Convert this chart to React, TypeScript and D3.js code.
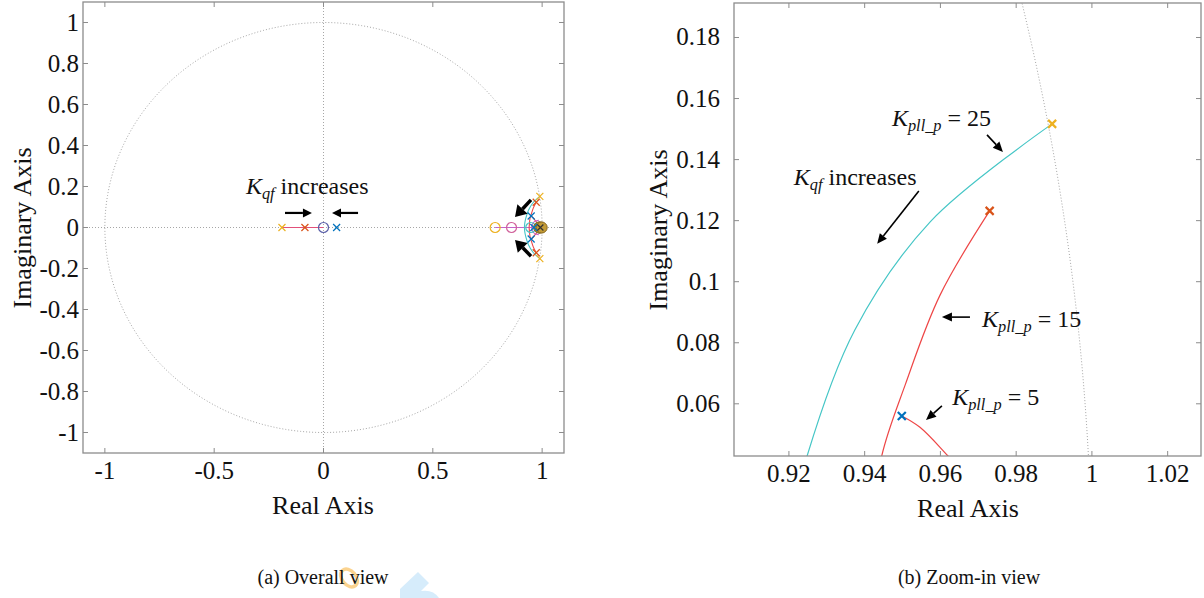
import * as d3 from "d3";

const FONT = "'Liberation Serif', 'Times New Roman', serif";
const AXIS = "#8c8c8c";
const GRID = "#a6a6a6";
const C_ORANGE = "#EDB120";
const C_RED = "#D95319";
const C_BLUE = "#0072BD";
const L_CYAN = "#45c6c6";
const L_RED = "#ee4646";
const L_MAG = "#c462c8";
const L_PINK = "#e2507a";

// tick values
const xTicksA = [-1, -0.5, 0, 0.5, 1];
const yTicksA = [-1, -0.8, -0.6, -0.4, -0.2, 0, 0.2, 0.4, 0.6, 0.8, 1];
const xTicksB = [0.92, 0.94, 0.96, 0.98, 1, 1.02];
const yTicksB = [0.06, 0.08, 0.1, 0.12, 0.14, 0.16, 0.18];

// root locus branches, upper half plane, [real, imag]
const locus25 = [
  [0.919, 0], [0.9205, 0.02], [0.9248, 0.0429], [0.9374, 0.0842],
  [0.9573, 0.1196], [0.9895, 0.1517],
];
const locus15 = [
  [0.9405, 0], [0.942, 0.02], [0.9445, 0.0429], [0.9507, 0.0662],
  [0.9599, 0.0956], [0.973, 0.1232],
];
const locus5 = [[0.9498, 0.056], [0.9546, 0.0523], [0.962, 0.0429], [0.975, 0.025], [0.985, 0]];
const arcMag = [[0.985, 0.035], [0.966, 0.03], [0.955, 0.015], [0.952, 0]];
const arcBlue = [[0.99, 0.028], [0.976, 0.022], [0.967, 0.01], [0.965, 0]];
const segPink = [[-0.19, 0], [0, 0]];
const segMag = [[0.785, 0], [1.01, 0]];

// open-loop poles (x) and zeros (o)
const polesCplx = [
  { re: 0.9895, im: 0.1517, color: C_ORANGE },
  { re: 0.973, im: 0.1232, color: C_RED },
  { re: 0.9498, im: 0.056, color: C_BLUE },
];
const polesReal = [
  { re: -0.19, color: C_ORANGE },
  { re: -0.085, color: C_RED },
  { re: 0.06, color: C_BLUE },
  { re: 0.962, color: C_BLUE },
];
const zerosReal = [
  { re: 0, color: "#5a5fa8" },
  { re: 0.785, color: C_ORANGE },
  { re: 0.86, color: "#d0609a" },
  { re: 0.948, color: L_CYAN },
];
const zeroCluster = [0.986, 0.992, 0.998];

const boxA = { l: 83, t: 2, r: 564, b: 453 };
const boxB = { l: 734, t: 3, r: 1201, b: 456 };

const sxA = d3.scaleLinear().domain([-1.1, 1.1]).range([boxA.l, boxA.r]);
const syA = d3.scaleLinear().domain([-1.1, 1.1]).range([boxA.b, boxA.t]);
const sxB = d3.scaleLinear().domain([0.9055, 1.0288]).range([boxB.l, boxB.r]);
const syB = d3.scaleLinear().domain([0.0429, 0.1913]).range([boxB.b, boxB.t]);

const circlePts = d3.range(0, 361, 1).map((a) => [Math.cos((a * Math.PI) / 180), Math.sin((a * Math.PI) / 180)]);

const xMark = (s) => `M${-s},${-s}L${s},${s}M${-s},${s}L${s},${-s}`;

const TICK_FS = 25;
const LAB_FS = 26;

const Frame = ({ box, sx, sy, xTicks, yTicks, yLabOff }) => {
  const tl = 5;
  return (
    <g>
      <rect x={box.l} y={box.t} width={box.r - box.l} height={box.b - box.t} fill="none" stroke={AXIS} strokeWidth={1.3} />
      {xTicks.map((v) => (
        <g key={"x" + v}>
          <line x1={sx(v)} x2={sx(v)} y1={box.b} y2={box.b - tl} stroke={AXIS} />
          <line x1={sx(v)} x2={sx(v)} y1={box.t} y2={box.t + tl} stroke={AXIS} />
          <text x={sx(v)} y={box.b + 26} fontFamily={FONT} fontSize={TICK_FS} fill="#111" textAnchor="middle">{String(v)}</text>
        </g>
      ))}
      {yTicks.map((v) => (
        <g key={"y" + v}>
          <line x1={box.l} x2={box.l + tl} y1={sy(v)} y2={sy(v)} stroke={AXIS} />
          <line x1={box.r} x2={box.r - tl} y1={sy(v)} y2={sy(v)} stroke={AXIS} />
          <text x={box.l - yLabOff} y={sy(v) + 8} fontFamily={FONT} fontSize={TICK_FS} fill="#111" textAnchor="end">{String(v)}</text>
        </g>
      ))}
    </g>
  );
};

const Arrow = ({ x1, y1, x2, y2, w = 1.6, head = 10, hw = 4.5 }) => {
  const a = Math.atan2(y2 - y1, x2 - x1);
  const bx = x2 - head * Math.cos(a);
  const by = y2 - head * Math.sin(a);
  const px = -Math.sin(a) * hw;
  const py = Math.cos(a) * hw;
  return (
    <g>
      <line x1={x1} y1={y1} x2={bx} y2={by} stroke="#000" strokeWidth={w} />
      <path d={`M${x2},${y2}L${bx + px},${by + py}L${bx - px},${by - py}Z`} fill="#000" />
    </g>
  );
};

const KLabel = ({ x, y, sub, rest, size = 24 }) => (
  <text x={x} y={y} fontFamily={FONT} fontSize={size} fill="#111">
    <tspan fontStyle="italic">K</tspan>
    <tspan fontStyle="italic" fontSize={size * 0.68} dy={5}>{sub}</tspan>
    <tspan dy={-5}>{rest}</tspan>
  </text>
);

const App = () => {
  const lineA = d3.line().x((d) => sxA(d[0])).y((d) => syA(d[1])).curve(d3.curveCatmullRom);
  const lineB = d3.line().x((d) => sxB(d[0])).y((d) => syB(d[1])).curve(d3.curveCatmullRom);
  const mirror = (pts) => pts.map((d) => [d[0], -d[1]]);
  const branchesA = [
    { pts: locus25, color: L_CYAN },
    { pts: locus15, color: L_RED },
    { pts: locus5, color: L_RED },
    { pts: arcMag, color: L_MAG },
    { pts: arcBlue, color: "#5b7fd0" },
  ];

  return (
    <svg width={1204} height={598} style={{ display: "block", position: "absolute", left: 0, top: 0 }}>
      <rect width={1204} height={598} fill="#fff" />
      <defs>
        <clipPath id="clipA">
          <rect x={boxA.l} y={boxA.t} width={boxA.r - boxA.l} height={boxA.b - boxA.t} />
        </clipPath>
        <clipPath id="clipB">
          <rect x={boxB.l} y={boxB.t} width={boxB.r - boxB.l} height={boxB.b - boxB.t} />
        </clipPath>
      </defs>

      {/* faint watermark fragments */}
      <ellipse cx={349} cy={578} rx={7} ry={10} transform="rotate(-40 349 578)" fill="none" stroke="#f9c46a" strokeWidth={3.5} opacity={0.75} />
      <path d="M400,598L400,589L418,572L429,583L421,591Q433,589 439,598Z" fill="#d6ecfb" />

      {/* (a) overall view */}
      <g clipPath="url(#clipA)">
        <path d={lineA(circlePts)} fill="none" stroke={GRID} strokeDasharray="1 2" />
        <line x1={sxA(-1.1)} x2={sxA(1.1)} y1={syA(0)} y2={syA(0)} stroke={GRID} strokeDasharray="1 2" />
        <line x1={sxA(0)} x2={sxA(0)} y1={syA(-1.1)} y2={syA(1.1)} stroke={GRID} strokeDasharray="1 2" />
        <path d={lineA(segPink)} stroke={L_PINK} strokeWidth={1.2} fill="none" />
        <path d={lineA(segMag)} stroke={L_MAG} strokeWidth={1.2} fill="none" />
        {branchesA.map((b, i) => (
          <g key={i}>
            <path d={lineA(b.pts)} stroke={b.color} strokeWidth={1.1} fill="none" />
            <path d={lineA(mirror(b.pts))} stroke={b.color} strokeWidth={1.1} fill="none" />
          </g>
        ))}
        {zerosReal.map((z, i) => (
          <circle key={i} cx={sxA(z.re)} cy={syA(0)} r={5} fill="none" stroke={z.color} strokeWidth={1.2} />
        ))}
        {zeroCluster.map((re, i) => (
          <circle key={i} cx={sxA(re)} cy={syA(0)} r={5.5} fill="#c29a36" stroke="#8a6a22" strokeWidth={1} />
        ))}
        {polesReal.map((p, i) => (
          <path key={i} d={xMark(3.5)} transform={`translate(${sxA(p.re)},${syA(0)})`} stroke={p.color} strokeWidth={1.2} />
        ))}
        <path d={xMark(3)} transform={`translate(${sxA(0.992)},${syA(0)})`} stroke="#333" strokeWidth={1.2} />
        {polesCplx.map((p, i) => (
          <g key={i}>
            <path d={xMark(3.5)} transform={`translate(${sxA(p.re)},${syA(p.im)})`} stroke={p.color} strokeWidth={1.2} />
            <path d={xMark(3.5)} transform={`translate(${sxA(p.re)},${syA(-p.im)})`} stroke={p.color} strokeWidth={1.2} />
          </g>
        ))}
      </g>
      <Frame box={boxA} sx={sxA} sy={syA} xTicks={xTicksA} yTicks={yTicksA} yLabOff={4} />
      <KLabel x={sxA(-0.355)} y={syA(0.165)} sub="qf" rest=" increases" />
      <Arrow x1={sxA(-0.176)} y1={syA(0.071)} x2={sxA(-0.053)} y2={syA(0.071)} w={2.2} head={9} hw={4.5} />
      <Arrow x1={sxA(0.158)} y1={syA(0.071)} x2={sxA(0.039)} y2={syA(0.071)} w={2.2} head={9} hw={4.5} />
      <Arrow x1={sxA(0.949)} y1={syA(0.135)} x2={sxA(0.876)} y2={syA(0.051)} w={3.5} head={11} hw={7} />
      <Arrow x1={sxA(0.949)} y1={syA(-0.14)} x2={sxA(0.876)} y2={syA(-0.061)} w={3.5} head={11} hw={7} />
      <text x={323} y={514} fontFamily={FONT} fontSize={LAB_FS} textAnchor="middle" fill="#111">Real Axis</text>
      <text transform="translate(31,228) rotate(-90)" fontFamily={FONT} fontSize={LAB_FS} textAnchor="middle" fill="#111">Imaginary Axis</text>
      <text x={323} y={584} fontFamily={FONT} fontSize={20} textAnchor="middle" fill="#111">(a) Overall view</text>

      {/* (b) zoom-in view */}
      <g clipPath="url(#clipB)">
        <path d={lineB(circlePts)} fill="none" stroke={GRID} strokeDasharray="1 2" />
        <path d={lineB(locus25)} stroke={L_CYAN} strokeWidth={1.2} fill="none" />
        <path d={lineB(locus15)} stroke={L_RED} strokeWidth={1.2} fill="none" />
        <path d={lineB(locus5)} stroke={L_RED} strokeWidth={1.2} fill="none" />
        {polesCplx.map((p, i) => (
          <path key={i} d={xMark(4)} transform={`translate(${sxB(p.re)},${syB(p.im)})`} stroke={p.color} strokeWidth={2.2} />
        ))}
      </g>
      <Frame box={boxB} sx={sxB} sy={syB} xTicks={xTicksB} yTicks={yTicksB} yLabOff={14} />
      <KLabel x={sxB(0.9472)} y={syB(0.1509)} sub="pll_p" rest=" = 25" />
      <Arrow x1={sxB(0.9723)} y1={syB(0.1481)} x2={sxB(0.9765)} y2={syB(0.1425)} />
      <KLabel x={sxB(0.9213)} y={syB(0.1317)} sub="qf" rest=" increases" />
      <Arrow x1={sxB(0.9543)} y1={syB(0.1297)} x2={sxB(0.9433)} y2={syB(0.1124)} />
      <KLabel x={sxB(0.971)} y={syB(0.0852)} sub="pll_p" rest=" = 15" />
      <Arrow x1={sxB(0.9678)} y1={syB(0.0884)} x2={sxB(0.9604)} y2={syB(0.0884)} />
      <KLabel x={sxB(0.9631)} y={syB(0.0596)} sub="pll_p" rest=" = 5" />
      <Arrow x1={sxB(0.9604)} y1={syB(0.0593)} x2={sxB(0.9562)} y2={syB(0.0547)} />
      <text x={968} y={517} fontFamily={FONT} fontSize={LAB_FS} textAnchor="middle" fill="#111">Real Axis</text>
      <text transform="translate(667,230) rotate(-90)" fontFamily={FONT} fontSize={LAB_FS} textAnchor="middle" fill="#111">Imaginary Axis</text>
      <text x={969} y={584} fontFamily={FONT} fontSize={20} textAnchor="middle" fill="#111">(b) Zoom-in view</text>
    </svg>
  );
};

export default App;
